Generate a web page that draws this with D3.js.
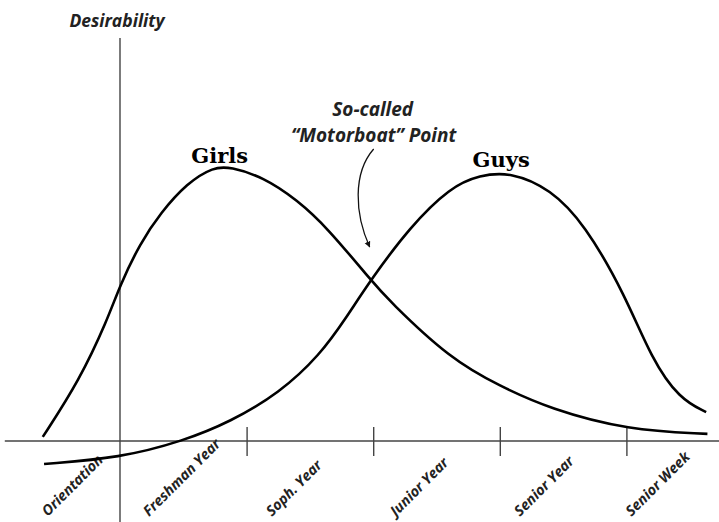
<!DOCTYPE html>
<html>
<head>
<meta charset="utf-8">
<script src="https://cdn.jsdelivr.net/npm/d3@7"></script>
<style>
  body { margin: 0; background: #fff; }
  text { font-family: "Open Sans", Lato, sans-serif; }
</style>
</head>
<body>
<div id="chart"></div>
<script>
// time axis: 0 = Orientation, 1..4 = end of each year
var categories = ["Orientation", "Freshman Year", "Soph. Year", "Junior Year", "Senior Year", "Senior Week"];
var labelPos = [-0.57, 0.23, 1.2, 2.18, 3.16, 4.04];
var tickValues = [1, 2, 3, 4];

var girlsT = [-0.61, -0.32, -0.10, 0, 0.16, 0.32, 0.53, 0.74, 0.87, 1.13, 1.40, 1.64, 1.98, 2.12, 2.61, 3.0, 3.40, 4.01, 4.64];
var girlsV = [1.5, 22.3, 44.3, 57.1, 72.5, 83.5, 94.5, 100.4, 100.4, 96.7, 88.3, 78.0, 59.0, 51.6, 30.0, 20.1, 11.7, 4.0, 2.6];

var guysT = [-0.60, 0, 0.50, 0.87, 1.26, 1.58, 1.79, 1.98, 2.29, 2.61, 2.84, 3.09, 3.40, 3.67, 3.99, 4.20, 4.42, 4.63];
var guysV = [-8.4, -6.2, 0, 7.0, 17.6, 31.5, 45.4, 59.0, 78.4, 93.0, 97.4, 98.5, 92.3, 79.5, 53.5, 30.0, 15.4, 10.6];

var motorboat = { t: 1.98, v: 59.0 };

var width = 719, height = 522;

var svg = d3.select("#chart")
  .append("svg")
  .attr("width", width)
  .attr("height", height);

var x = d3.scaleLinear().domain([0, 4]).range([120, 626.4]);
var y = d3.scaleLinear().domain([0, 100]).range([441, 168]);

// horizontal axis
var xAxis = svg.append("g")
  .attr("transform", "translate(0," + y(0) + ")")
  .call(d3.axisBottom(x).tickValues(tickValues).tickSize(15).tickFormat(""));
xAxis.select(".domain").remove();
xAxis.selectAll(".tick line")
  .attr("y1", -14)
  .attr("stroke", "#444")
  .attr("stroke-width", 1.4);
xAxis.append("line")
  .attr("x1", x(-0.91)).attr("x2", width)
  .attr("stroke", "#444")
  .attr("stroke-width", 1.4);

// vertical axis
svg.append("line")
  .attr("x1", x(0)).attr("x2", x(0))
  .attr("y1", 38).attr("y2", height)
  .attr("stroke", "#444")
  .attr("stroke-width", 1.4);

svg.append("text")
  .attr("x", x(0) - 3)
  .attr("y", 27)
  .attr("text-anchor", "middle")
  .style("font-size", "17.5px")
  .style("font-weight", "bold")
  .style("font-style", "italic")
  .attr("fill", "#222")
  .text("Desirability");

// category labels
svg.selectAll(".cat")
  .data(categories)
  .enter()
  .append("text")
  .attr("class", "cat")
  .attr("transform", function (d, i) { return "translate(" + x(labelPos[i]) + ",517)rotate(-45)"; })
  .style("font-size", "14.4px")
  .style("font-weight", "bold")
  .style("font-style", "italic")
  .attr("fill", "#222")
  .text(function (d) { return d; });

// curves
var line = d3.line()
  .x(function (d) { return x(d[0]); })
  .y(function (d) { return y(d[1]); })
  .curve(d3.curveBasis);

var girls = girlsT.map(function (t, i) { return [t, girlsV[i]]; });
var guys = guysT.map(function (t, i) { return [t, guysV[i]]; });

[girls, guys].forEach(function (s) {
  svg.append("path")
    .datum(s)
    .attr("fill", "none")
    .attr("stroke", "#000")
    .attr("stroke-width", 2.6)
    .attr("d", line);
});

var girlsPeak = d3.greatest(girls, function (d) { return d[1]; });
var guysPeak = d3.greatest(guys, function (d) { return d[1]; });

svg.append("text")
  .attr("x", x(girlsPeak[0]) + 6)
  .attr("y", y(girlsPeak[1]) - 4)
  .attr("text-anchor", "middle")
  .style("font-family", "'DejaVu Serif', serif")
  .style("font-size", "21px")
  .style("font-weight", "bold")
  .text("Girls");

svg.append("text")
  .attr("x", x(guysPeak[0]) - 10)
  .attr("y", y(guysPeak[1]) - 5)
  .attr("text-anchor", "middle")
  .style("font-family", "'DejaVu Serif', serif")
  .style("font-size", "21px")
  .style("font-weight", "bold")
  .text("Guys");

// motorboat annotation
var mx = x(motorboat.t), my = y(motorboat.v);
var note = svg.append("g")
  .style("font-size", "19px")
  .style("font-weight", "bold")
  .style("font-style", "italic")
  .attr("fill", "#222")
  .attr("text-anchor", "middle");
note.append("text").attr("x", mx + 2).attr("y", 116).text("So-called");
note.append("text").attr("x", mx + 3).attr("y", 142).text("\u201cMotorboat\u201d Point");

svg.append("defs").append("marker")
  .attr("id", "arrow")
  .attr("viewBox", "0 0 10 10")
  .attr("refX", 9).attr("refY", 5)
  .attr("markerWidth", 6).attr("markerHeight", 8)
  .attr("markerUnits", "userSpaceOnUse")
  .attr("orient", "auto")
  .append("path")
  .attr("d", "M0,0L10,5L0,10Z")
  .attr("fill", "#111");

svg.append("path")
  .attr("d", "M" + (mx + 3) + ",149C" + (mx - 18) + ",173 " + (mx - 16) + ",214 " + (mx - 1) + "," + (my - 33))
  .attr("fill", "none")
  .attr("stroke", "#111")
  .attr("stroke-width", 1.3)
  .attr("marker-end", "url(#arrow)");
</script>
</body>
</html>
